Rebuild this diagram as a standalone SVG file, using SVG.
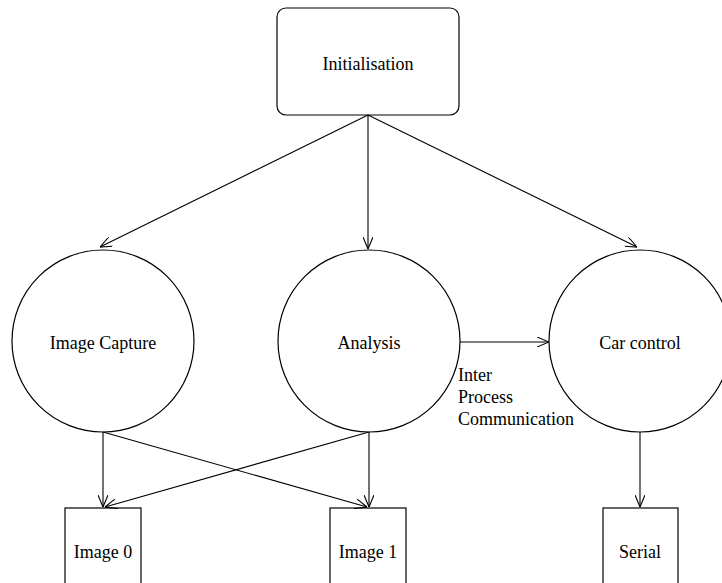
<svg xmlns="http://www.w3.org/2000/svg" width="722" height="583" viewBox="0 0 722 583">
<style>
.n{fill:#fff;stroke:#000;stroke-width:1.2}
.t{font-family:"Liberation Serif","Times New Roman",serif;font-size:18px;fill:#000}
.c{stroke:#000;stroke-width:1.1;fill:none;marker-end:url(#ah)}
</style>
<defs>
<marker id="ah" viewBox="0 0 12 10" refX="12" refY="5" markerWidth="12" markerHeight="10" markerUnits="userSpaceOnUse" orient="auto">
<path d="M0,0 L12,5 L0,10" fill="none" stroke="#000" stroke-width="1.1"/>
</marker>
</defs>
<rect width="722" height="583" fill="#fff"/>
<g id="init">
<rect class="n" x="277" y="8" width="182" height="107" rx="9"/>
<text class="t" x="368" y="70" text-anchor="middle">Initialisation</text>
</g>
<g id="capture">
<circle class="n" cx="103" cy="341" r="91"/>
<text class="t" x="103" y="349" text-anchor="middle">Image Capture</text>
</g>
<g id="analysis">
<circle class="n" cx="369" cy="341" r="91"/>
<text class="t" x="369" y="349" text-anchor="middle">Analysis</text>
</g>
<g id="car">
<circle class="n" cx="640" cy="341" r="91"/>
<text class="t" x="640" y="349" text-anchor="middle">Car control</text>
</g>
<g id="image0">
<rect class="n" x="65" y="508" width="76" height="90"/>
<text class="t" x="103" y="558" text-anchor="middle">Image 0</text>
</g>
<g id="image1">
<rect class="n" x="330" y="508" width="76" height="90"/>
<text class="t" x="368" y="558" text-anchor="middle">Image 1</text>
</g>
<g id="serial">
<rect class="n" x="603" y="508" width="75" height="90"/>
<text class="t" x="640" y="558" text-anchor="middle">Serial</text>
</g>
<g id="connectors">
<line class="c" x1="368" y1="115" x2="100" y2="247"/>
<line class="c" x1="368" y1="115" x2="368" y2="249"/>
<line class="c" x1="368" y1="115" x2="637" y2="247"/>
<line class="c" x1="460" y1="342" x2="549" y2="342"/>
<line class="c" x1="103" y1="432" x2="103" y2="507"/>
<line class="c" x1="103" y1="432" x2="367" y2="507"/>
<line class="c" x1="369" y1="432" x2="369" y2="507"/>
<line class="c" x1="369" y1="432" x2="105" y2="507"/>
<line class="c" x1="640" y1="432" x2="640" y2="507"/>
</g>
<g id="ipc-label">
<text class="t" x="458" y="381">Inter</text>
<text class="t" x="458" y="403">Process</text>
<text class="t" x="458" y="425">Communication</text>
</g>
</svg>
